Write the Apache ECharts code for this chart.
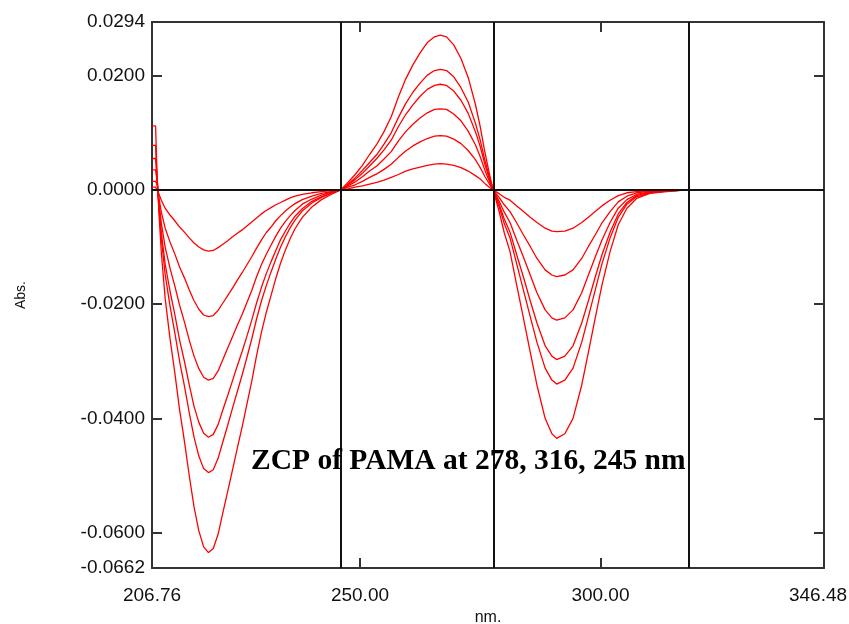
<!DOCTYPE html>
<html>
<head>
<meta charset="utf-8">
<script src="https://cdn.jsdelivr.net/npm/echarts@6/dist/echarts.min.js"></script>
<style>html,body{margin:0;padding:0;background:#fff}#c{width:849px;height:624px}</style>
</head>
<body>
<div id="c"></div>
<script>
const wavelengths = [206.76,207.5,207.8,208.2,208.7,209.5,210.5,211.5,212.5,213.5,214.5,215.5,216.5,217.5,218.5,219.5,220.5,221.5,222.5,223.5,224.5,225.5,226.5,227.5,228.5,229.5,230.5,231.5,232.5,233.5,234.5,235.5,236.5,238,240,242,244,246,
247.5,249,250.5,252,253.5,255,256.5,258,259.5,261,262.5,264,265.5,266.7,268,269.5,271,272.5,274,275,276,277,277.7,
279,280,281.2,282.6,284,285.4,286.8,288.5,289.9,290.9,292.6,294.3,296.1,297.5,298.9,300.3,302,303.7,305.5,307.5,310.3,313.8,318,346.48];

const abs1 = [0.0005,0.0005,0.0003,-0.0007,-0.0018,-0.0032,-0.0044,-0.0054,-0.0065,-0.0074,-0.0084,-0.0093,-0.0100,-0.0105,-0.0107,-0.0106,-0.0101,-0.0095,-0.0089,-0.0082,-0.0076,-0.0070,-0.0063,-0.0056,-0.0049,-0.0042,-0.0036,-0.0031,-0.0026,-0.0022,-0.0018,-0.0014,-0.0011,-0.0008,-0.0005,-0.0003,-0.0001,0,
0.0002,0.0005,0.0007,0.0010,0.0013,0.0017,0.0022,0.0027,0.0033,0.0037,0.0040,0.0043,0.0045,0.0046,0.0045,0.0043,0.0039,0.0033,0.0025,0.0019,0.0011,0.0004,0,
-0.0007,-0.0013,-0.0018,-0.0028,-0.0038,-0.0048,-0.0057,-0.0067,-0.0072,-0.0073,-0.0072,-0.0067,-0.0057,-0.0048,-0.0038,-0.0028,-0.0018,-0.0010,-0.0005,-0.0003,-0.0001,0,0,0];

const abs2 = [0.0015,0.0015,0.0010,-0.0014,-0.0039,-0.0067,-0.0091,-0.0112,-0.0135,-0.0154,-0.0175,-0.0194,-0.0209,-0.0219,-0.0222,-0.0220,-0.0211,-0.0198,-0.0185,-0.0172,-0.0158,-0.0145,-0.0131,-0.0117,-0.0102,-0.0088,-0.0075,-0.0065,-0.0054,-0.0045,-0.0037,-0.0030,-0.0024,-0.0017,-0.0011,-0.0006,-0.0003,0,
0.0005,0.0009,0.0015,0.0022,0.0028,0.0036,0.0045,0.0057,0.0068,0.0077,0.0084,0.0090,0.0094,0.0095,0.0094,0.0089,0.0081,0.0069,0.0053,0.0039,0.0023,0.0009,0,
-0.0014,-0.0026,-0.0038,-0.0058,-0.0079,-0.0099,-0.0120,-0.0140,-0.0149,-0.0152,-0.0149,-0.0140,-0.0120,-0.0099,-0.0079,-0.0058,-0.0038,-0.0021,-0.0011,-0.0005,-0.0002,-0.0001,0,0];

const abs3 = [0.0035,0.0035,0.0016,-0.0021,-0.0058,-0.0100,-0.0137,-0.0168,-0.0202,-0.0231,-0.0263,-0.0291,-0.0313,-0.0328,-0.0333,-0.0330,-0.0317,-0.0297,-0.0277,-0.0257,-0.0237,-0.0218,-0.0197,-0.0176,-0.0152,-0.0131,-0.0113,-0.0097,-0.0081,-0.0067,-0.0055,-0.0045,-0.0036,-0.0025,-0.0016,-0.0009,-0.0004,0,
0.0007,0.0014,0.0023,0.0033,0.0042,0.0054,0.0067,0.0086,0.0102,0.0115,0.0126,0.0135,0.0141,0.0142,0.0141,0.0133,0.0121,0.0103,0.0079,0.0058,0.0034,0.0013,0,
-0.0021,-0.0039,-0.0057,-0.0088,-0.0118,-0.0149,-0.0180,-0.0210,-0.0224,-0.0228,-0.0224,-0.0210,-0.0180,-0.0149,-0.0118,-0.0088,-0.0057,-0.0032,-0.0017,-0.0008,-0.0003,-0.0002,0,0];

const abs4 = [0.0055,0.0055,0.0020,-0.0027,-0.0075,-0.0130,-0.0177,-0.0218,-0.0263,-0.0300,-0.0341,-0.0379,-0.0407,-0.0426,-0.0433,-0.0428,-0.0411,-0.0385,-0.0360,-0.0334,-0.0308,-0.0283,-0.0256,-0.0228,-0.0198,-0.0171,-0.0147,-0.0126,-0.0106,-0.0087,-0.0072,-0.0058,-0.0046,-0.0033,-0.0020,-0.0012,-0.0005,0,
0.0009,0.0018,0.0029,0.0042,0.0055,0.0070,0.0087,0.0111,0.0132,0.0149,0.0164,0.0176,0.0183,0.0185,0.0183,0.0173,0.0157,0.0134,0.0102,0.0076,0.0044,0.0017,0,
-0.0027,-0.0051,-0.0074,-0.0114,-0.0153,-0.0194,-0.0233,-0.0273,-0.0291,-0.0297,-0.0291,-0.0273,-0.0233,-0.0194,-0.0153,-0.0114,-0.0074,-0.0042,-0.0022,-0.0010,-0.0004,-0.0002,0,0];

const abs5 = [0.0078,0.0078,0.0023,-0.0031,-0.0086,-0.0148,-0.0203,-0.0250,-0.0300,-0.0343,-0.0390,-0.0433,-0.0466,-0.0488,-0.0495,-0.0490,-0.0470,-0.0441,-0.0412,-0.0382,-0.0353,-0.0324,-0.0293,-0.0261,-0.0226,-0.0195,-0.0168,-0.0144,-0.0121,-0.0100,-0.0082,-0.0066,-0.0053,-0.0037,-0.0023,-0.0013,-0.0006,0,
0.0010,0.0021,0.0034,0.0048,0.0062,0.0080,0.0100,0.0127,0.0151,0.0171,0.0187,0.0201,0.0209,0.0211,0.0209,0.0198,0.0179,0.0154,0.0117,0.0087,0.0051,0.0020,0,
-0.0031,-0.0059,-0.0084,-0.0130,-0.0176,-0.0222,-0.0267,-0.0312,-0.0333,-0.0340,-0.0333,-0.0312,-0.0267,-0.0222,-0.0176,-0.0130,-0.0084,-0.0048,-0.0025,-0.0012,-0.0005,-0.0002,0,0];

const abs6 = [0.0112,0.0112,0.0030,-0.0040,-0.0110,-0.0190,-0.0260,-0.0320,-0.0385,-0.0440,-0.0500,-0.0555,-0.0597,-0.0625,-0.0635,-0.0628,-0.0603,-0.0565,-0.0528,-0.0490,-0.0452,-0.0415,-0.0375,-0.0335,-0.0290,-0.0250,-0.0215,-0.0185,-0.0155,-0.0128,-0.0105,-0.0085,-0.0068,-0.0048,-0.0030,-0.0017,-0.0008,0,
0.0013,0.0027,0.0043,0.0062,0.0080,0.0102,0.0128,0.0163,0.0194,0.0219,0.0240,0.0258,0.0268,0.0271,0.0268,0.0254,0.0230,0.0197,0.0150,0.0111,0.0065,0.0025,0,
-0.0040,-0.0075,-0.0108,-0.0167,-0.0225,-0.0284,-0.0342,-0.0400,-0.0427,-0.0435,-0.0427,-0.0400,-0.0342,-0.0284,-0.0225,-0.0167,-0.0108,-0.0061,-0.0032,-0.0015,-0.0006,-0.0003,0,0];

const xTickLabels = [206.76, 250, 300, 346.48];
const xTicks = [250, 300];
const yTickLabels = [0.0294, 0.02, 0, -0.02, -0.04, -0.06, -0.0662];
const yTicks = [0.02, 0, -0.02, -0.04, -0.06];
const zcpLines = [246.06, 277.72, 318.35];
const annotation = 'ZCP of PAMA at 278, 316, 245 nm';

const X_MIN = 206.76, X_MAX = 346.48, Y_MIN = -0.0662, Y_MAX = 0.0294;
const frame = { show: true, onZero: false, lineStyle: { color: '#333', width: 2 } };
const tickStyle = { show: true, inside: true, length: 10, lineStyle: { color: '#333', width: 2 } };
const labelFont = { fontFamily: 'Liberation Sans, Arial, sans-serif', fontSize: 19, color: '#111' };

const allAbs = [abs1, abs2, abs3, abs4, abs5, abs6];
const curveSeries = allAbs.map((arr, i) => ({
  name: 'c' + (i + 1),
  type: 'line',
  xAxisIndex: 0, yAxisIndex: 0,
  data: wavelengths.map((w, j) => [w, arr[j]]),
  showSymbol: false,
  smooth: false,
  lineStyle: { color: '#ff0000', width: 1.3 },
  z: 3,
  silent: true
}));

const refSeries = {
  type: 'line',
  xAxisIndex: 0, yAxisIndex: 0,
  data: [],
  z: 1,
  markLine: {
    silent: true,
    symbol: ['none', 'none'],
    label: { show: false },
    lineStyle: { color: '#111', width: 2, type: 'solid' },
    data: zcpLines.map(x => ({ xAxis: x })).concat([{ yAxis: 0 }])
  }
};

const chart = echarts.init(document.getElementById('c'), null, { renderer: 'canvas' });
chart.setOption({
  animation: false,
  backgroundColor: '#fff',
  grid: { left: 152, right: 25, top: 22, bottom: 56, containLabel: false, outerBoundsMode: 'none' },
  xAxis: [{
    type: 'value', min: X_MIN, max: X_MAX, position: 'bottom',
    axisLine: frame,
    axisTick: Object.assign({ customValues: xTicks }, tickStyle),
    axisLabel: Object.assign({
      show: true, margin: 18, customValues: xTickLabels,
      formatter: v => (v >= X_MAX ? '{mx|' + Number(v).toFixed(2) + '}' : Number(v).toFixed(2)),
      rich: { mx: { fontFamily: 'Liberation Sans, Arial, sans-serif', fontSize: 19, color: '#111', padding: [0, 12, 0, 0] } }
    }, labelFont),
    splitLine: { show: false },
    name: 'nm.', nameLocation: 'middle', nameGap: 42,
    nameTextStyle: { fontFamily: 'Liberation Sans, Arial, sans-serif', fontSize: 16, color: '#111' }
  }, {
    type: 'value', min: X_MIN, max: X_MAX, position: 'top',
    axisLine: frame,
    axisTick: Object.assign({ customValues: xTicks }, tickStyle),
    axisLabel: { show: false },
    splitLine: { show: false }
  }],
  yAxis: [{
    type: 'value', min: Y_MIN, max: Y_MAX, position: 'left',
    axisLine: frame,
    axisTick: Object.assign({ customValues: yTicks }, tickStyle),
    axisLabel: Object.assign({ show: true, margin: 7, customValues: yTickLabels, formatter: v => Number(v).toFixed(4) }, labelFont),
    splitLine: { show: false },
    name: 'Abs.', nameLocation: 'middle', nameGap: 124, nameRotate: 90,
    nameTextStyle: { fontFamily: 'Liberation Sans, Arial, sans-serif', fontSize: 14, color: '#111' }
  }, {
    type: 'value', min: Y_MIN, max: Y_MAX, position: 'right',
    axisLine: frame,
    axisTick: Object.assign({ customValues: yTicks }, tickStyle),
    axisLabel: { show: false },
    splitLine: { show: false }
  }],
  series: [refSeries].concat(curveSeries),
  graphic: [{
    type: 'text', left: 251, top: 446, z: 10,
    style: { text: annotation, font: 'bold 29.5px "Liberation Serif", "Times New Roman", serif', fill: '#000' }
  }]
});
</script>
</body>
</html>
